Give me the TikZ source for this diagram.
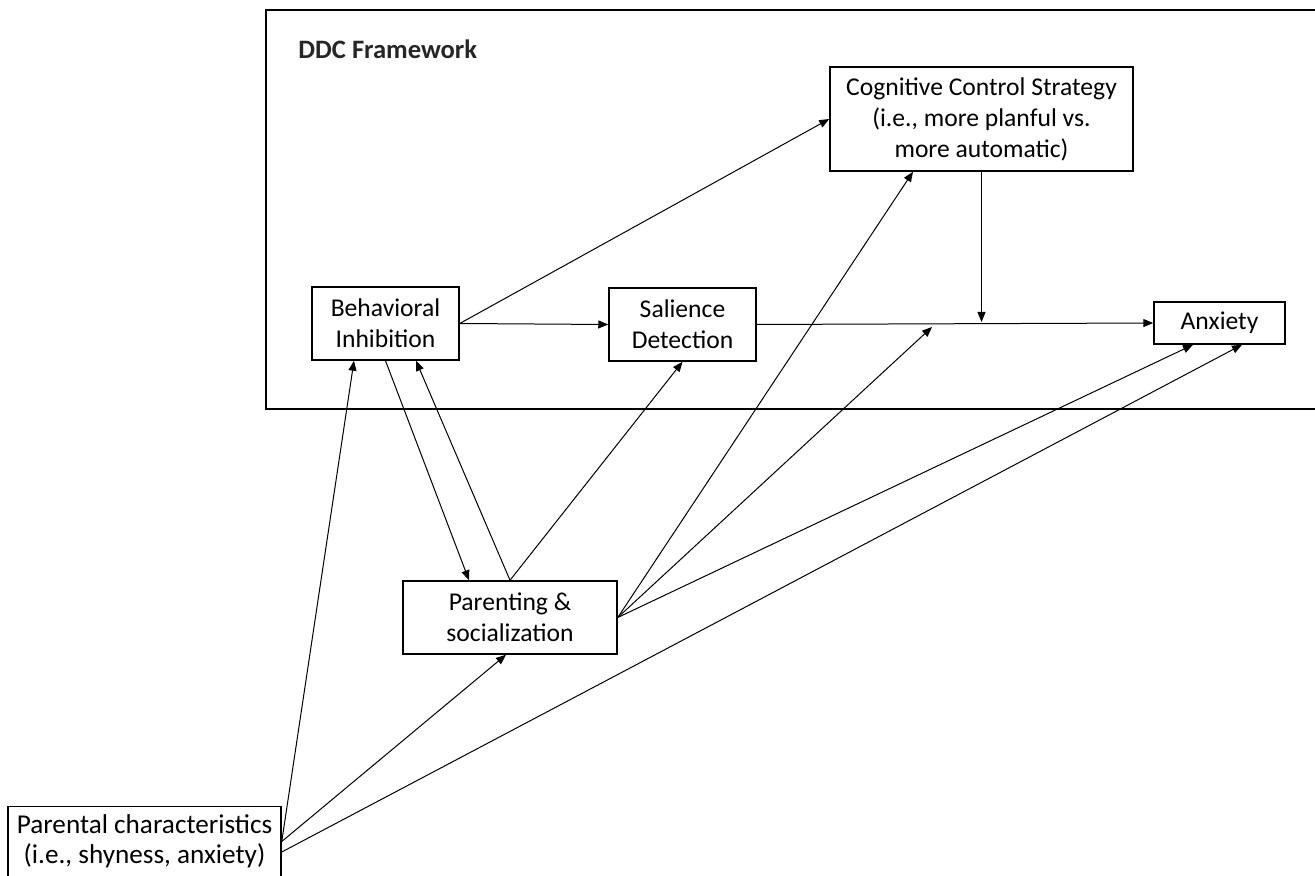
\documentclass[tikz,border=0pt]{standalone}
\usepackage{fontspec}
\setmainfont{Carlito}
\usepackage{tikz}
\usetikzlibrary{arrows.meta}
\tikzset{
    boxnode/.style={draw, line width=0.75pt, inner sep=0pt, align=center,
        font=\fontsize{12.8}{15.5}\selectfont},
    link/.style={-{Triangle[length=5pt,width=4pt]}, line width=0.5pt}
}

\begin{document}
\begin{tikzpicture}[x=0.5pt,y=-0.5pt]
                \useasboundingbox (0,0) rectangle (1315,876);
                \clip (0,0) rectangle (1315,876);
                % framework frame (open on the right)
                \draw[line width=0.75pt](1316,10)--(266,10)--(266,409)--(1316,409);
                \node[anchor=west, inner sep=0pt, font=\fontsize{13.3}{15}\selectfont\bfseries, text=black!85] (title) at (298,49) {DDC Framework};
                \node[boxnode, minimum width=73.5pt, minimum height=36.5pt] (beh) at (385.5,323.5) {Behavioral\\Inhibition};
                \node[boxnode, minimum width=73.5pt, minimum height=36.5pt] (sal) at (682.5,324.5) {Salience\\Detection};
                \node[boxnode, minimum width=151.5pt, minimum height=52pt] (cog) at (981.5,119) {Cognitive Control Strategy\\(i.e., more planful vs.\\more automatic)};
                \node[boxnode, minimum width=65.5pt, minimum height=21pt] (anx) at (1219.5,323) {Anxiety};
                \node[boxnode, minimum width=107pt, minimum height=36.5pt] (par) at (510,617.5) {Parenting \&\\socialization};
                \node[boxnode, minimum width=136.5pt, minimum height=35pt, font=\fontsize{13.6}{15}\selectfont] (pc) at (144.5,841.5) {Parental characteristics\\(i.e., shyness, anxiety)};
                \coordinate (junc) at (981.5,322);
                \coordinate (mid) at (932,327);
                % paths inside the framework
                \draw[link](beh.east)--(sal.west);
                \draw[link](beh.east)--(cog.west);
                \draw[link](cog.south)--(junc);
                \draw[link](sal.east)--(anx.west);
                % parenting paths
                \draw[link](beh.south)--([xshift=-20.5pt]par.north);
                \draw[link](par.north)--([xshift=15.25pt]beh.south);
                \draw[link](par.north)--(sal.south);
                \draw[link](par.east)--([xshift=-34.25pt]cog.south);
                \draw[link](par.east)--(mid);
                \draw[link](par.east)--([xshift=-13.25pt]anx.south);
                % parental characteristics
                \draw[link](pc.east)--([xshift=-15.75pt]beh.south);
                \draw[link](pc.east)--([xshift=-2pt]par.south);
                \draw[link]([yshift=-5.25pt]pc.east)--([xshift=11.25pt]anx.south);
            \end{tikzpicture}
\end{document}
